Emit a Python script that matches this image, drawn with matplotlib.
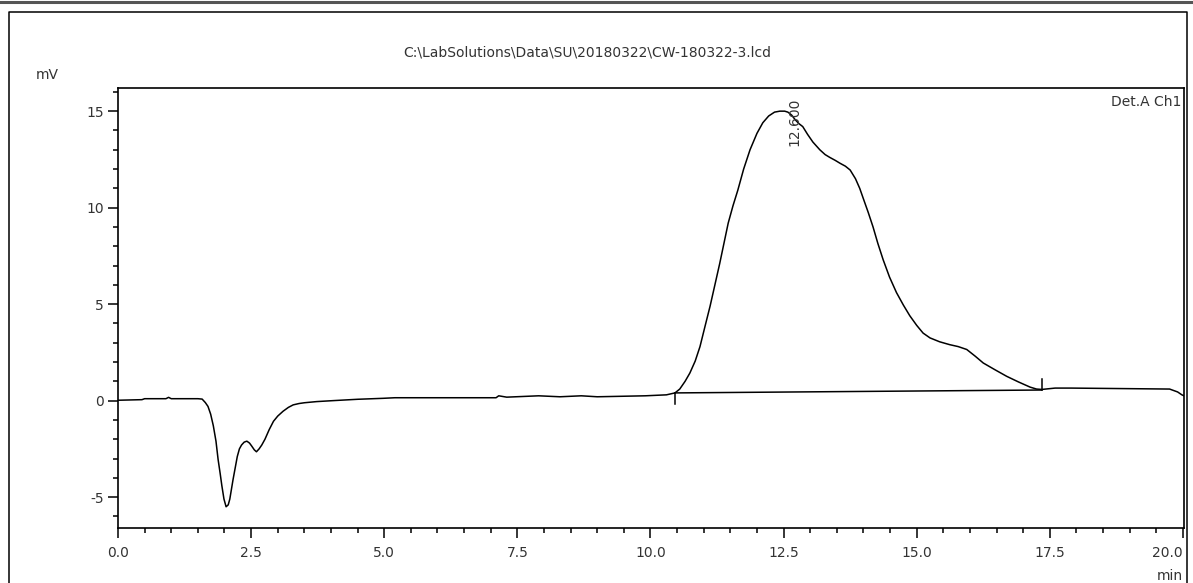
import matplotlib
matplotlib.use('Agg')
import matplotlib.pyplot as plt
from matplotlib.ticker import MultipleLocator, FormatStrFormatter
from matplotlib.lines import Line2D

# --- chromatogram (min, mV) ---
time_min = [0.0, 0.45, 0.5, 0.9, 0.95, 1.0, 1.5,
            1.58, 1.64, 1.69, 1.74, 1.79, 1.84, 1.88, 1.92, 1.95, 1.99,
            2.03, 2.07, 2.1, 2.13, 2.16, 2.2, 2.24, 2.28, 2.32, 2.37,
            2.42, 2.47, 2.51, 2.56, 2.6, 2.65, 2.7, 2.76, 2.84, 2.92,
            3.0, 3.1, 3.2, 3.29, 3.4, 3.5, 3.73, 4.04, 4.5, 4.98, 5.2,
            7.1, 7.15, 7.3, 7.9, 8.3, 8.7, 9.0, 9.9, 10.3,
            10.46, 10.55, 10.65, 10.74, 10.84, 10.93, 11.02, 11.12, 11.21, 11.3,
            11.38, 11.46, 11.55, 11.64, 11.75, 11.87, 12.0, 12.11, 12.22, 12.33,
            12.43, 12.52, 12.58, 12.65, 12.72, 12.79, 12.86, 12.95, 13.05, 13.18,
            13.28, 13.37, 13.47, 13.56, 13.66, 13.75, 13.85, 13.93, 14.0, 14.09,
            14.18, 14.27, 14.37, 14.49, 14.62, 14.75, 14.87, 15.0, 15.12, 15.25,
            15.43, 15.62, 15.78, 15.94, 16.1, 16.25, 16.47, 16.69, 16.91, 17.13,
            17.25, 17.35, 17.6, 17.9, 19.75, 19.9, 19.98, 20.02]
signal_mv = [0.02, 0.05, 0.1, 0.1, 0.17, 0.1, 0.1,
             0.08, -0.1, -0.3, -0.7, -1.3, -2.1, -3.05, -3.8, -4.4, -5.1,
             -5.5, -5.4, -5.1, -4.6, -4.1, -3.5, -2.9, -2.5, -2.3, -2.15,
             -2.1, -2.2, -2.35, -2.55, -2.65, -2.5, -2.3, -2.0, -1.5, -1.07,
             -0.8, -0.55, -0.35, -0.22, -0.15, -0.11, -0.05, 0.0, 0.07, 0.12, 0.15,
             0.15, 0.25, 0.18, 0.25, 0.2, 0.25, 0.2, 0.25, 0.3,
             0.40, 0.6, 1.0, 1.43, 2.05, 2.8, 3.8, 4.9, 6.0, 7.1,
             8.15, 9.2, 10.1, 10.9, 12.0, 13.0, 13.85, 14.4, 14.75, 14.95,
             15.0, 15.0, 14.95, 14.8, 14.55, 14.35, 14.2, 13.8, 13.4, 13.0,
             12.75, 12.6, 12.45, 12.3, 12.15, 11.95, 11.5, 11.0, 10.45, 9.75,
             9.0, 8.15, 7.3, 6.4, 5.6, 4.95, 4.4, 3.9, 3.5, 3.25,
             3.05, 2.9, 2.8, 2.65, 2.3, 1.95, 1.6, 1.26, 0.97, 0.7,
             0.6, 0.58, 0.65, 0.65, 0.6, 0.45, 0.3, 0.25]

# integration baseline (start / end of peak)
base_t = [10.46, 17.35]
base_v = [0.40, 0.55]
peak_rt = 12.600

title_txt = r'C:\LabSolutions\Data\SU\20180322\CW-180322-3.lcd'
txt_color = '#333333'
fs = 10

plt.rcParams['font.family'] = ['DejaVu Sans']
plt.rcParams['axes.unicode_minus'] = False

fig = plt.figure(figsize=(11.93, 5.83), dpi=100)
ax = fig.add_axes([118 / 1193, 1 - 528 / 583, (1184 - 118) / 1193, (528 - 88) / 583])

ax.plot(time_min, signal_mv, color='black', linewidth=1.1)
ax.plot(base_t, base_v, color='black', linewidth=1.1)

# start/end markers
ax.plot([base_t[0], base_t[0]], [base_v[0], base_v[0] - 0.55], color='black', linewidth=1.1)
ax.plot([base_t[1], base_t[1]], [base_v[1], base_v[1] + 0.55], color='black', linewidth=1.1)

ax.text(peak_rt + 0.11, 13.2, f'{peak_rt:.3f}', rotation=90, ha='center', va='bottom',
        fontsize=fs, color=txt_color)

ax.set_xlim(0, 20.02)
ax.set_ylim(-6.6, 16.2)
ax.xaxis.set_major_locator(MultipleLocator(2.5))
ax.xaxis.set_minor_locator(MultipleLocator(0.5))
ax.xaxis.set_major_formatter(FormatStrFormatter('%.1f'))
ax.yaxis.set_major_locator(MultipleLocator(5))
ax.yaxis.set_minor_locator(MultipleLocator(1))
ax.tick_params(which='major', length=7, width=1.1, labelsize=fs, labelcolor=txt_color)
ax.tick_params(which='minor', length=3.5, width=1.1)
ax.tick_params(axis='x', which='major', pad=6)
ax.tick_params(axis='y', which='major', pad=3)
for sp in ax.spines.values():
    sp.set_linewidth(1.2)

# last x label sits left of its tick so it stays inside the frame
fig.canvas.draw()
for lab in ax.get_xticklabels():
    if lab.get_text() == '20.0':
        lab.set_horizontalalignment('right')

ax.text(0.998, 0.985, 'Det.A Ch1', transform=ax.transAxes, ha='right', va='top',
        fontsize=fs, color=txt_color)

fig.text(0.492, 1 - 52 / 583, title_txt, ha='center', va='center', fontsize=fs, color=txt_color)
fig.text(47 / 1193, 1 - 75 / 583, 'mV', ha='center', va='center', fontsize=fs, color=txt_color)
fig.text(1170 / 1193, 1 - 576 / 583, 'min', ha='center', va='center', fontsize=fs, color=txt_color)

# outer report frame
fig.add_artist(Line2D([0, 1], [1 - 2 / 583, 1 - 2 / 583], transform=fig.transFigure,
                      color='#555555', linewidth=2.2))
fig.add_artist(Line2D([9 / 1193, 9 / 1193, 1187 / 1193, 1187 / 1193],
                      [0, 1 - 12 / 583, 1 - 12 / 583, 0], transform=fig.transFigure,
                      color='black', linewidth=1.1))

fig.savefig('out.png', dpi=100)
